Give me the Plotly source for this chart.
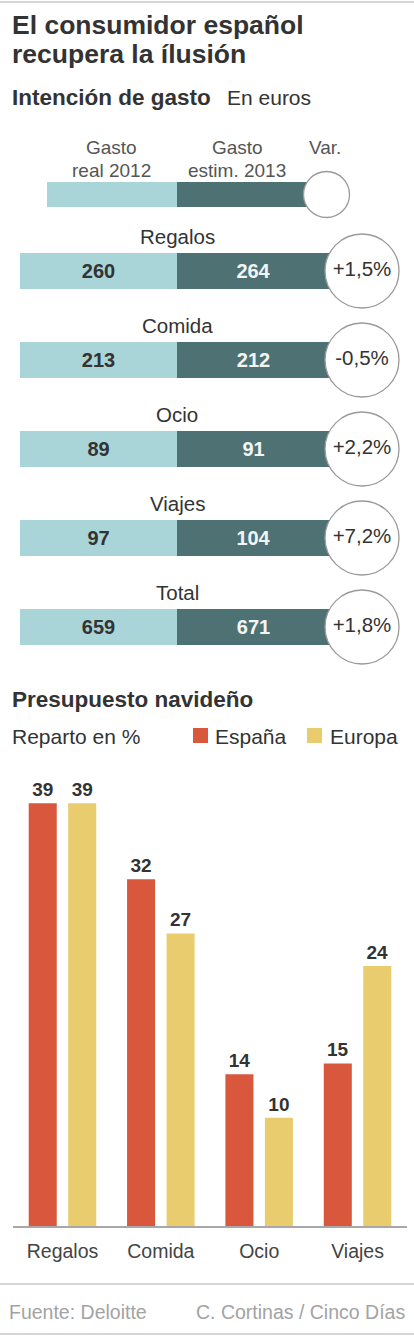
import plotly.graph_objects as go

W, H = 414, 1340

# ---- data ----
rows = ["Regalos", "Comida", "Ocio", "Viajes", "Total"]
gasto_2012 = [260, 213, 89, 97, 659]
gasto_2013 = [264, 212, 91, 104, 671]
variacion = ["+1,5%", "-0,5%", "+2,2%", "+7,2%", "+1,8%"]

categorias = ["Regalos", "Comida", "Ocio", "Viajes"]
espana = [39, 32, 14, 15]
europa = [39, 27, 10, 24]

# ---- style ----
FONT = "Liberation Sans, Arial, Helvetica, sans-serif"
LIGHT = "#a9d4d8"
DARK = "#4e7274"
RED = "#d9573d"
YELLOW = "#e8cc6e"
TXT = "#333333"


def px(p):
    return p / W


def py(p):
    return 1 - p / H


fig = go.Figure()

# ---- top section: spending table-bars ----
n = len(rows)
fig.add_trace(go.Bar(
    orientation="h", y=rows, x=[157] * n, base=20,
    marker=dict(color=LIGHT, line=dict(width=0)),
    width=0.404, offset=-0.202,
    text=[str(v) for v in gasto_2012], textposition="inside",
    insidetextanchor="middle", textangle=0,
    textfont=dict(family=FONT, size=20, color=TXT, weight="bold"),
    xaxis="x", yaxis="y", showlegend=False, hoverinfo="skip",
))
fig.add_trace(go.Bar(
    orientation="h", y=rows, x=[153] * n, base=177,
    marker=dict(color=DARK, line=dict(width=0)),
    width=0.404, offset=-0.202,
    text=[str(v) for v in gasto_2013], textposition="inside",
    insidetextanchor="middle", textangle=0,
    textfont=dict(family=FONT, size=20, color="#f2f5f5", weight="bold"),
    xaxis="x", yaxis="y", showlegend=False, hoverinfo="skip",
))
fig.add_trace(go.Scatter(
    x=[362] * n, y=rows, mode="markers+text",
    marker=dict(size=74, color="white", line=dict(color="#9a9a9a", width=1.3)),
    text=variacion, textposition="middle center",
    textfont=dict(family=FONT, size=20.5, color=TXT),
    xaxis="x", yaxis="y", showlegend=False, hoverinfo="skip", cliponaxis=False,
))

# ---- bottom section: grouped bars ----
fig.add_trace(go.Bar(
    x=categorias, y=espana, name="España", marker=dict(color=RED, line=dict(width=0)),
    text=[str(v) for v in espana], textposition="outside",
    textfont=dict(family=FONT, size=19, color=TXT, weight="bold"),
    xaxis="x2", yaxis="y2", showlegend=False, hoverinfo="skip", cliponaxis=False,
))
fig.add_trace(go.Bar(
    x=categorias, y=europa, name="Europa", marker=dict(color=YELLOW, line=dict(width=0)),
    text=[str(v) for v in europa], textposition="outside",
    textfont=dict(family=FONT, size=19, color=TXT, weight="bold"),
    xaxis="x2", yaxis="y2", showlegend=False, hoverinfo="skip", cliponaxis=False,
))

annotations = []


def ann(text, x, y, size, color=TXT, bold=False, xanchor="left", **kw):
    t = f"<b>{text}</b>" if bold else text
    annotations.append(dict(
        text=t, x=px(x), y=py(y), xref="paper", yref="paper",
        xanchor=xanchor, yanchor="middle", showarrow=False,
        font=dict(family=FONT, size=size, color=color), **kw))


# titles
ann("El consumidor español", 10, 25, 26.5, bold=True)
ann("recupera la ílusión", 10, 54, 26.5, bold=True)
ann("Intención de gasto", 10, 97, 22.5, bold=True)
ann("En euros", 225, 97, 21)

# key header
ann("Gasto", 112, 147, 19, color="#555555", xanchor="center")
ann("real 2012", 112, 170, 19, color="#555555", xanchor="center")
ann("Gasto", 237, 147, 19, color="#555555", xanchor="center")
ann("estim. 2013", 237, 170, 19, color="#555555", xanchor="center")
ann("Var.", 325, 147, 19, color="#555555", xanchor="center")

# row labels
for r in rows:
    annotations.append(dict(
        text=r, x=177, y=r, xref="x", yref="y", yshift=35,
        xanchor="center", yanchor="middle", showarrow=False,
        font=dict(family=FONT, size=20.5, color=TXT)))

# second section
ann("Presupuesto navideño", 10, 699, 22.5, bold=True)
ann("Reparto en %", 10, 736, 21)
ann("España", 213, 736, 21)
ann("Europa", 328, 736, 21)

# footer
ann("Fuente: Deloitte", 7, 1312, 19.5, color="#a3a3a3")
ann("C. Cortinas / Cinco Días", 407, 1312, 19.5, color="#a3a3a3", xanchor="right")

shapes = []


def rect(x0, y0, x1, y1, fill, line=None):
    shapes.append(dict(type="rect", xref="paper", yref="paper",
                       x0=px(x0), x1=px(x1), y0=py(y1), y1=py(y0),
                       fillcolor=fill, line=dict(width=0) if line is None else line,
                       layer="above"))


# key bar
rect(47, 182, 177, 207, LIGHT)
rect(177, 182, 315, 207, DARK)
shapes.append(dict(type="circle", xref="paper", yref="paper",
                   x0=px(303.5), x1=px(349.5), y0=py(217.5), y1=py(171.5),
                   fillcolor="white", line=dict(color="#9a9a9a", width=1.3), layer="above"))
# legend squares
rect(193, 728, 208, 743, RED)
rect(307, 728, 322, 743, YELLOW)
# rule lines
for yy in (2, 1284, 1334):
    shapes.append(dict(type="line", xref="paper", yref="paper",
                       x0=0, x1=1, y0=py(yy), y1=py(yy),
                       line=dict(color="#d6d6d6", width=2)))

fig.update_layout(
    width=W, height=H,
    margin=dict(l=0, r=0, t=0, b=0),
    paper_bgcolor="white", plot_bgcolor="rgba(0,0,0,0)",
    barmode="group", bargap=0.197, bargroupgap=0.29,
    xaxis=dict(domain=[0, 1], range=[0, W], visible=False, fixedrange=True),
    yaxis=dict(domain=[py(671.5), py(226.5)], type="category",
               categoryorder="array", categoryarray=rows,
               range=[len(rows) - 0.5, -0.5], autorange=False,
               visible=False, fixedrange=True),
    xaxis2=dict(domain=[px(13.3), px(406.7)], anchor="y2", type="category",
                showline=True, linecolor="#a8a8a8", linewidth=1.5,
                ticks="outside", ticklen=7, tickcolor="rgba(0,0,0,0)",
                tickfont=dict(family=FONT, size=19.5, color="#444444"),
                showgrid=False, zeroline=False, fixedrange=True),
    yaxis2=dict(domain=[py(1226), py(760)], anchor="x2", range=[0, 43],
                visible=False, showgrid=False, zeroline=False, fixedrange=True),
    annotations=annotations,
    shapes=shapes,
    font=dict(family=FONT),
)

fig.write_html(
    "out.html",
    config={"displayModeBar": False},
    post_script="document.body.style.margin='0';document.body.style.padding='0';",
)
